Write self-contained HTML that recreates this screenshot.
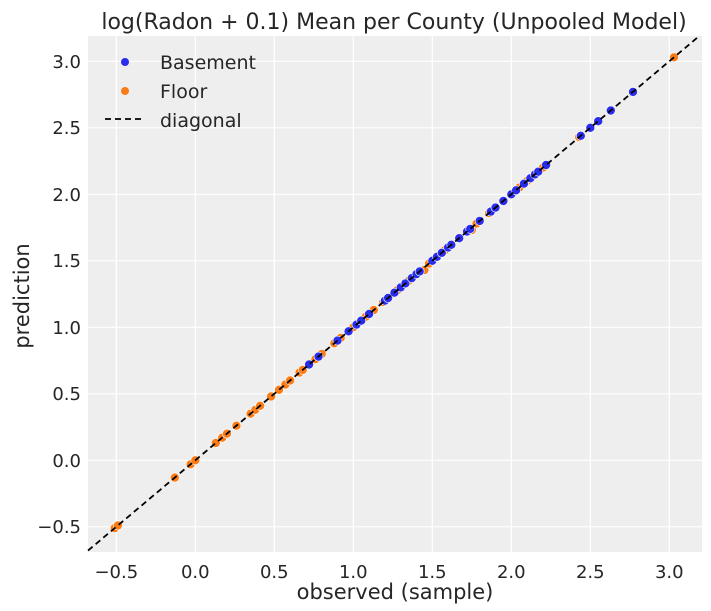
<!DOCTYPE html>
<html><head><meta charset="utf-8"><style>
body{margin:0;background:#fff}
svg{display:block;font-family:"DejaVu Sans","Liberation Sans",sans-serif}
</style></head><body>
<svg width="711" height="611" viewBox="0 0 711 611">
<rect x="88" y="36" width="614" height="516" fill="#eeeeee"/>
<g stroke="#fff" stroke-width="1.2">
<line x1="116.3" y1="36" x2="116.3" y2="552"/><line x1="195.3" y1="36" x2="195.3" y2="552"/>
<line x1="274.3" y1="36" x2="274.3" y2="552"/><line x1="353.3" y1="36" x2="353.3" y2="552"/>
<line x1="432.3" y1="36" x2="432.3" y2="552"/><line x1="511.3" y1="36" x2="511.3" y2="552"/>
<line x1="590.3" y1="36" x2="590.3" y2="552"/><line x1="669.3" y1="36" x2="669.3" y2="552"/>
<line x1="88" y1="61.3" x2="702" y2="61.3"/><line x1="88" y1="127.8" x2="702" y2="127.8"/>
<line x1="88" y1="194.3" x2="702" y2="194.3"/><line x1="88" y1="260.8" x2="702" y2="260.8"/>
<line x1="88" y1="327.3" x2="702" y2="327.3"/><line x1="88" y1="393.8" x2="702" y2="393.8"/>
<line x1="88" y1="460.3" x2="702" y2="460.3"/><line x1="88" y1="526.8" x2="702" y2="526.8"/>
</g>
<g fill="#fa7c17" stroke="#fff" stroke-width="0.6">
<circle cx="114.7" cy="528.1" r="4.5"/><circle cx="117.9" cy="525.5" r="4.5"/><circle cx="174.8" cy="477.6" r="4.5"/><circle cx="190.6" cy="464.3" r="4.5"/><circle cx="195.3" cy="460.3" r="4.5"/><circle cx="215.8" cy="443" r="4.5"/><circle cx="222.2" cy="437.7" r="4.5"/><circle cx="226.9" cy="433.7" r="4.5"/><circle cx="236.4" cy="425.7" r="4.5"/><circle cx="250.6" cy="413.7" r="4.5"/><circle cx="255.3" cy="409.8" r="4.5"/><circle cx="260.1" cy="405.8" r="4.5"/><circle cx="271.1" cy="396.5" r="4.5"/><circle cx="279" cy="389.8" r="4.5"/><circle cx="285.4" cy="384.5" r="4.5"/><circle cx="290.1" cy="380.5" r="4.5"/><circle cx="299.6" cy="372.5" r="4.5"/><circle cx="302.7" cy="369.9" r="4.5"/><circle cx="315.4" cy="359.2" r="4.5"/><circle cx="321.7" cy="353.9" r="4.5"/><circle cx="334.3" cy="343.3" r="4.5"/><circle cx="340.7" cy="337.9" r="4.5"/><circle cx="353.3" cy="327.3" r="4.5"/><circle cx="365.9" cy="316.7" r="4.5"/><circle cx="373.8" cy="310" r="4.5"/><circle cx="383.3" cy="302" r="4.5"/><circle cx="397.5" cy="290.1" r="4.5"/><circle cx="408.6" cy="280.8" r="4.5"/><circle cx="418.1" cy="272.8" r="4.5"/><circle cx="424.4" cy="270" r="4.5"/><circle cx="429.1" cy="263.5" r="4.5"/><circle cx="444.9" cy="250.2" r="4.5"/><circle cx="459.2" cy="238.2" r="4.5"/><circle cx="471.8" cy="230" r="4.5"/><circle cx="476.5" cy="223.6" r="4.5"/><circle cx="489.2" cy="213" r="4.5"/><circle cx="519.2" cy="187.7" r="4.5"/><circle cx="527.1" cy="181" r="4.5"/><circle cx="542.9" cy="167.7" r="4.5"/><circle cx="579.2" cy="137.1" r="4.5"/><circle cx="674" cy="57.3" r="4.5"/>
</g>
<g fill="#2a2eec" stroke="#fff" stroke-width="0.6">
<circle cx="309.1" cy="364.5" r="4.5"/><circle cx="318.5" cy="356.6" r="4.5"/><circle cx="337.5" cy="340.6" r="4.5"/><circle cx="348.6" cy="331.3" r="4.5"/><circle cx="356.5" cy="324.6" r="4.5"/><circle cx="361.2" cy="320.7" r="4.5"/><circle cx="369.1" cy="314" r="4.5"/><circle cx="384.9" cy="300.7" r="4.5"/><circle cx="388.1" cy="298" r="4.5"/><circle cx="394.4" cy="292.7" r="4.5"/><circle cx="400.7" cy="287.4" r="4.5"/><circle cx="405.4" cy="283.4" r="4.5"/><circle cx="411.8" cy="278.1" r="4.5"/><circle cx="416.5" cy="274.1" r="4.5"/><circle cx="419.7" cy="271.4" r="4.5"/><circle cx="432.3" cy="260.8" r="4.5"/><circle cx="437" cy="256.8" r="4.5"/><circle cx="441.8" cy="252.8" r="4.5"/><circle cx="448.1" cy="247.5" r="4.5"/><circle cx="451.3" cy="244.8" r="4.5"/><circle cx="459.2" cy="238.2" r="4.5"/><circle cx="467.1" cy="231.5" r="4.5"/><circle cx="470.2" cy="228.9" r="4.5"/><circle cx="479.7" cy="220.9" r="4.5"/><circle cx="490.8" cy="211.6" r="4.5"/><circle cx="495.5" cy="207.6" r="4.5"/><circle cx="503.4" cy="201" r="4.5"/><circle cx="511.3" cy="194.3" r="4.5"/><circle cx="516.1" cy="190.3" r="4.5"/><circle cx="523.9" cy="183.7" r="4.5"/><circle cx="530.3" cy="178.3" r="4.5"/><circle cx="535" cy="174.4" r="4.5"/><circle cx="538.2" cy="171.7" r="4.5"/><circle cx="546.1" cy="165" r="4.5"/><circle cx="580.8" cy="135.8" r="4.5"/><circle cx="590.3" cy="127.8" r="4.5"/><circle cx="598.2" cy="121.2" r="4.5"/><circle cx="610.8" cy="110.5" r="4.5"/><circle cx="633" cy="91.9" r="4.5"/>
</g>
<line x1="88" y1="550.6" x2="699.3" y2="36" stroke="#000" stroke-width="1.8" stroke-dasharray="6,4"/>
<g fill="#262626" font-size="19">
<circle cx="125" cy="62" r="4" fill="#2a2eec"/><text x="160" y="69">Basement</text>
<circle cx="125" cy="91" r="4" fill="#fa7c17"/><text x="160" y="98">Floor</text>
<line x1="105" y1="119" x2="144" y2="119" stroke="#000" stroke-width="1.8" stroke-dasharray="6,4"/><text x="160" y="127">diagonal</text>
</g>
<g fill="#262626" font-size="18" text-anchor="end">
<text x="81" y="68">3.0</text><text x="81" y="134">2.5</text><text x="81" y="201">2.0</text><text x="81" y="267">1.5</text><text x="81" y="334">1.0</text><text x="81" y="400">0.5</text><text x="81" y="467">0.0</text><text x="81" y="533">−0.5</text>
</g>
<g fill="#262626" font-size="18" text-anchor="middle">
<text x="116.3" y="578">−0.5</text><text x="195.3" y="578">0.0</text><text x="274.3" y="578">0.5</text><text x="353.3" y="578">1.0</text><text x="432.3" y="578">1.5</text><text x="511.3" y="578">2.0</text><text x="590.3" y="578">2.5</text><text x="669.3" y="578">3.0</text>
<text x="395" y="599" font-size="21">observed (sample)</text>
<text x="394" y="29" font-size="22">log(Radon + 0.1) Mean per County (Unpooled Model)</text>
<text transform="translate(29 296) rotate(-90)" font-size="21">prediction</text>
</g>
</svg>
</body></html>
